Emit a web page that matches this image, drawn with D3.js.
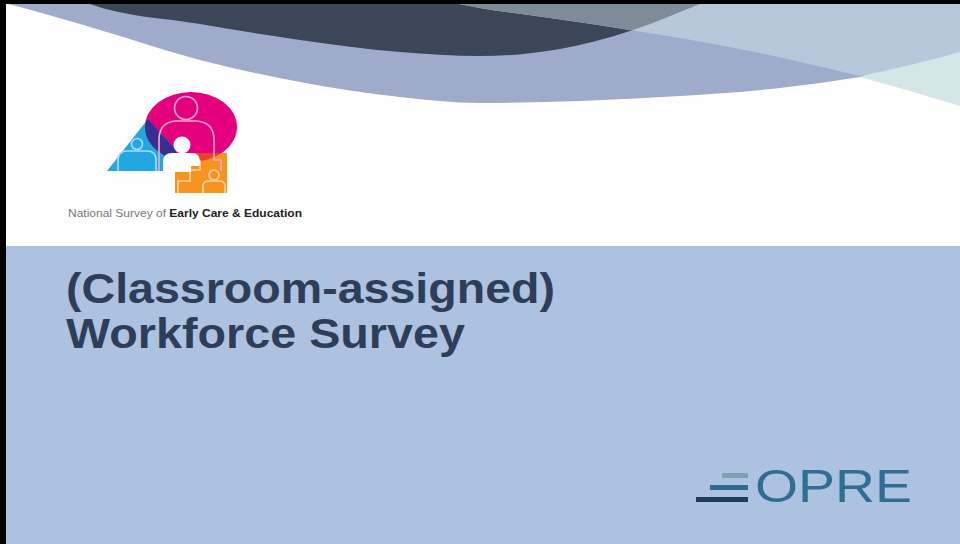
<!DOCTYPE html>
<html>
<head>
<meta charset="utf-8">
<script src="https://cdn.jsdelivr.net/npm/d3@7"></script>
<style>
  html, body { margin: 0; padding: 0; background: #fff; }
  svg { display: block; }
</style>
</head>
<body>
<div id="slide"></div>
<script>
// slide texts
const titleLines = ["(Classroom-assigned)", "Workforce Survey"];
const captionParts = ["National Survey of ", "Early Care & Education"];
const brandName = "OPRE";

// overall size
const width = 960, height = 544;

const svg = d3.select("#slide")
  .append("svg")
    .attr("width", width)
    .attr("height", height);

const defs = svg.append("defs");

// background + lower panel
svg.append("rect").attr("width", width).attr("height", height).attr("fill", "#fefefe");
svg.append("rect")
  .attr("x", 0).attr("y", 246)
  .attr("width", width).attr("height", height - 246)
  .attr("fill", "#adc2e1");

// swoosh outlines (decoration)
const curve = d3.line().curve(d3.curveMonotoneX);
const lin = d3.line();

// very light teal piece at far right
const tealEdge = [[740, 30], [800, 58], [860, 77], [910, 91], [960, 106]];
svg.append("path")
  .attr("d", curve(tealEdge) + "L960,0L740,0Z")
  .attr("fill", "#d5e6e9");

// lavender band
const lavEdge = [[0, 2], [20, 7], [100, 30], [200, 60], [300, 82], [400, 97],
                 [480, 103], [580, 101], [680, 96], [780, 88], [860, 77]];
svg.append("path")
  .attr("d", curve(lavEdge) + "L960,40L960,0L0,0Z")
  .attr("fill", "#9eabcb");

// dark navy band
const darkEdge = [[80, 0], [90, 4], [200, 24], [300, 40], [400, 52], [480, 56],
                  [560, 49], [630, 31], [700, 4], [710, 0]];
const darkD = curve(darkEdge) + "Z";
svg.append("path").attr("d", darkD).attr("fill", "#3b4657");

// light blue piece
const lightLeft = [[440, 0], [480, 8], [550, 18], [630, 30], [750, 51], [860, 76]];
const lightRight = [[860, 76], [910, 65], [960, 52]];
const lightD = curve(lightLeft) + curve(lightRight).replace("M", "L") + "L960,0Z";
svg.append("path").attr("d", lightD).attr("fill", "#b6c8d9");

// grey where dark and light blue overlap
defs.append("clipPath").attr("id", "clipLight")
  .append("path").attr("d", lightD);
svg.append("path")
  .attr("d", darkD)
  .attr("fill", "#7e8b98")
  .attr("clip-path", "url(#clipLight)");

// ---- NSECE logo ----
const logo = svg.append("g");

const ell = { cx: 191, cy: 127, rx: 46, ry: 35 };
const triD = lin([[107, 171], [148, 119], [176, 150], [176, 171]]) + "Z";
const sqr = { x: 175, y: 153, w: 52, h: 40 };

defs.append("clipPath").attr("id", "clipEll")
  .append("ellipse")
    .attr("cx", ell.cx).attr("cy", ell.cy)
    .attr("rx", ell.rx).attr("ry", ell.ry);

logo.append("ellipse")
  .attr("cx", ell.cx).attr("cy", ell.cy)
  .attr("rx", ell.rx).attr("ry", ell.ry)
  .attr("fill", "#e5007d");
logo.append("path").attr("d", triD).attr("fill", "#22a8e1");
logo.append("path").attr("d", triD).attr("fill", "#3a2f8e")
  .attr("clip-path", "url(#clipEll)");
logo.append("rect")
  .attr("x", sqr.x).attr("y", sqr.y).attr("width", sqr.w).attr("height", sqr.h)
  .attr("fill", "#f7941e");
logo.append("rect")
  .attr("x", sqr.x).attr("y", sqr.y).attr("width", sqr.w).attr("height", sqr.h)
  .attr("fill", "#e8412c")
  .attr("clip-path", "url(#clipEll)");

// outline figures
const outline = logo.append("g")
  .attr("fill", "none")
  .attr("stroke-width", 1.6)
  .attr("stroke-linejoin", "round");

// big figure in magenta
outline.append("circle").attr("cx", 186).attr("cy", 108).attr("r", 11.5)
  .attr("stroke", "#f6a9cd");
outline.append("path")
  .attr("d", "M159,171 L159,140 Q159,122 176,121 L196,121 Q214,122 214,140 L214,153 L214,160 L221,160 L221,171")
  .attr("stroke", "#f6a9cd");
// small figure in cyan
outline.append("circle").attr("cx", 137).attr("cy", 144).attr("r", 5.5)
  .attr("stroke", "#a9dcf4");
outline.append("path")
  .attr("d", "M118,171 L118,160 Q118,151 127,151 L147,151 Q156,151 156,160 L156,171")
  .attr("stroke", "#a9dcf4");
// small figure in orange
outline.append("circle").attr("cx", 214).attr("cy", 175).attr("r", 5)
  .attr("stroke", "#fcd3a6");
outline.append("path")
  .attr("d", "M203,193 L203,186 Q203,181 209,181 L219,181 Q225,181 225,186 L225,193")
  .attr("stroke", "#fcd3a6");
// stair line in orange
outline.append("path")
  .attr("d", "M178,193 L178,181 L190,181 L190,170 L200,170 L200,160")
  .attr("stroke", "#fcd3a6");

// white figure in the middle
logo.append("circle").attr("cx", 182).attr("cy", 145).attr("r", 8.5).attr("fill", "#fff");
logo.append("path")
  .attr("d", "M163,172 L163,162 Q163,153 172,153 L192,153 Q200,153 200,162 L200,166 L191,166 L191,172 Z")
  .attr("fill", "#fff");

// caption under the logo
const cap = svg.append("text")
  .attr("x", 68).attr("y", 217)
  .attr("font-family", "'Liberation Sans', Arial, sans-serif")
  .attr("font-size", 10.5)
  .attr("textLength", 234)
  .attr("lengthAdjust", "spacingAndGlyphs");
cap.append("tspan").attr("fill", "#777").text(captionParts[0]);
cap.append("tspan").attr("fill", "#222").attr("font-weight", "bold").text(captionParts[1]);

// title
const titleW = [489, 399];
svg.selectAll("text.title")
  .data(titleLines)
  .join("text")
    .attr("class", "title")
    .attr("x", 66)
    .attr("y", (d, i) => 303 + i * 45)
    .attr("font-family", "'Liberation Sans', Arial, sans-serif")
    .attr("font-weight", "bold")
    .attr("font-size", 42)
    .attr("fill", "#2f3e58")
    .attr("textLength", (d, i) => titleW[i])
    .attr("lengthAdjust", "spacingAndGlyphs")
    .text(d => d);

// OPRE mark
const opre = svg.append("g");
const bars = [
  { x: 722, y: 473, w: 26, c: "#7f9fb3" },
  { x: 710, y: 485, w: 38, c: "#2f6b90" },
  { x: 696, y: 497, w: 52, c: "#1f3d56" }
];
opre.selectAll("rect")
  .data(bars)
  .join("rect")
    .attr("x", d => d.x).attr("y", d => d.y)
    .attr("width", d => d.w).attr("height", 5)
    .attr("fill", d => d.c);
opre.append("text")
  .attr("x", 755).attr("y", 502)
  .attr("font-family", "'Liberation Sans', Arial, sans-serif")
  .attr("font-size", 47)
  .attr("fill", "#306d93")
  .attr("textLength", 157)
  .attr("lengthAdjust", "spacingAndGlyphs")
  .text(brandName);

// frame edges
svg.append("rect").attr("x", 0).attr("y", 0).attr("width", 6).attr("height", height).attr("fill", "#000");
svg.append("rect").attr("x", 0).attr("y", 0).attr("width", width).attr("height", 4).attr("fill", "#000");
</script>
</body>
</html>
